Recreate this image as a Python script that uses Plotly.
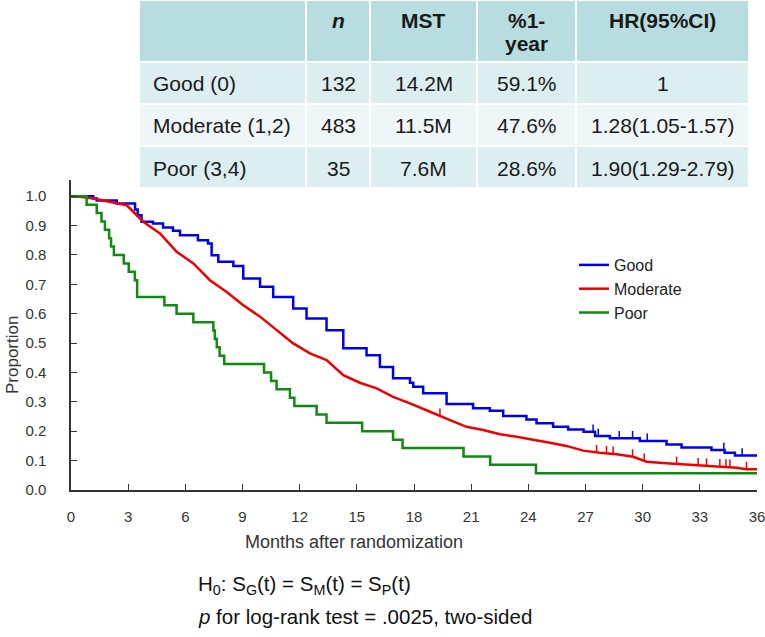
import numpy as np
import plotly.graph_objects as go

# ---------------- data ----------------
# Poor (3,4): n=35, KM step points (months, survival)
poor_t = [0, 0.82, 1.35, 1.6, 1.78, 2.0, 2.1, 2.25, 2.77, 3.03, 3.35, 3.47, 4.9, 5.54, 6.42,
          7.47, 7.55, 7.65, 7.8, 8.04, 10.13, 10.5, 10.79, 11.49, 11.72, 12.89, 13.41, 15.28,
          16.9, 17.4, 20.6, 22.0, 24.4, 36]
poor_s = [1.0, 0.971, 0.943, 0.914, 0.886, 0.857, 0.829, 0.800, 0.771, 0.743, 0.714, 0.657, 0.629,
          0.600, 0.571, 0.543, 0.514, 0.486, 0.457, 0.429, 0.400, 0.371, 0.343, 0.314, 0.286,
          0.257, 0.229, 0.200, 0.171, 0.143, 0.114, 0.086, 0.057, 0.057]

# Good (0): n=132
good_t = [0, 1.17, 1.35, 2.4, 3.36, 3.5, 3.7, 4.3, 4.83, 5.35, 5.72, 6.66, 7.19, 7.38, 7.73,
          8.52, 9.04, 9.92, 10.61, 11.66, 12.36, 13.41, 14.29, 15.51, 16.21, 16.9, 17.79,
          17.96, 18.48, 19.71, 21.1, 21.98, 22.68, 23.9, 24.43, 25.3, 26.09, 26.9, 27.5,
          28.28, 29.85, 31.25, 32.04, 33.61, 34.3, 34.84, 36]
good_s = [1.0, 0.992, 0.985, 0.975, 0.955, 0.935, 0.913, 0.907, 0.893, 0.882, 0.867, 0.850,
          0.839, 0.799, 0.777, 0.762, 0.720, 0.692, 0.657, 0.618, 0.584, 0.544, 0.482, 0.459,
          0.419, 0.380, 0.365, 0.351, 0.329, 0.293, 0.278, 0.270, 0.252, 0.240, 0.227, 0.215,
          0.206, 0.198, 0.184, 0.176, 0.167, 0.155, 0.145, 0.136, 0.127, 0.117, 0.117]
good_cens = [27.4, 27.67, 28.77, 29.47, 30.24, 34.26, 35.22]

# Moderate (1,2): n=483
mod_t = [0, 0.47, 1.17, 2.05, 2.92, 3.1, 3.79, 4.67, 5.54, 6.42, 7.29, 8.17, 9.04, 9.92,
         10.79, 11.66, 12.54, 13.41, 14.29, 15.16, 16.04, 16.9, 17.79, 18.13, 19.0, 19.89,
         20.76, 21.63, 22.51, 23.38, 24.26, 25.13, 26.0, 26.88, 27.75, 28.63, 29.5, 30.2,
         31.25, 32.65, 33.52, 34.58, 34.93, 35.45, 36]
mod_s = [1.0, 0.998, 0.992, 0.981, 0.969, 0.958, 0.913, 0.873, 0.811, 0.771, 0.714, 0.674,
         0.629, 0.590, 0.544, 0.499, 0.465, 0.442, 0.391, 0.365, 0.346, 0.317, 0.295, 0.285,
         0.262, 0.238, 0.215, 0.204, 0.190, 0.181, 0.172, 0.161, 0.150, 0.134, 0.127, 0.122,
         0.113, 0.096, 0.091, 0.085, 0.082, 0.079, 0.076, 0.071, 0.071]
mod_cens = [19.36, 27.58, 28.1, 28.45, 29.47, 30.08, 31.78, 32.91, 33.35, 34.05, 34.37, 34.58, 35.45]

# table
tbl_header = ["", "<b><i>n</i></b>", "<b>MST</b>", "<b>%1-<br>year</b>", "<b>HR(95%CI)</b>"]
tbl_group = ["Good (0)", "Moderate (1,2)", "Poor (3,4)"]
tbl_n = ["132", "483", "35"]
tbl_mst = ["14.2M", "11.5M", "7.6M"]
tbl_1yr = ["59.1%", "47.6%", "28.6%"]
tbl_hr = ["1", "1.28(1.05-1.57)", "1.90(1.29-2.79)"]

x_ticks = list(range(0, 37, 3))
y_ticks = [round(0.1 * i, 1) for i in range(11)]

# ---------------- figure ----------------
W, H = 765, 637
L, R, T = 71, 8, 0
B = H - 490
PW, PH = W - L - R, H - T - B


def px_x(px):
    return (px - L) / PW


def px_y(py):
    return (H - B - py) / PH


FONT = "Liberation Sans, Arial, sans-serif"
BLUE, RED, GREEN = "#0000F0", "#F00000", "#108A10"

fig = go.Figure()

fig.add_trace(go.Scatter(x=good_t, y=good_s, mode="lines", line=dict(color=BLUE, width=2.5, shape="hv"),
                         name="Good", legendgroup="g"))
fig.add_trace(go.Scatter(x=mod_t, y=mod_s, mode="lines", line=dict(color=RED, width=2.5, shape="linear"),
                         name="Moderate", legendgroup="m"))
fig.add_trace(go.Scatter(x=poor_t, y=poor_s, mode="lines", line=dict(color=GREEN, width=2.5, shape="hv"),
                         name="Poor", legendgroup="p"))


def step_val(ts, ss, c):
    i = np.searchsorted(ts, c, side="right") - 1
    return ss[max(i, 0)]


TICK_H = 0.025
cx, cy = [], []
for c in good_cens:
    v = step_val(good_t, good_s, c)
    cx += [c, c, None]
    cy += [v, v + TICK_H, None]
fig.add_trace(go.Scatter(x=cx, y=cy, mode="lines", line=dict(color=BLUE, width=1.5),
                         showlegend=False, hoverinfo="skip"))
cx, cy = [], []
for c in mod_cens:
    v = float(np.interp(c, mod_t, mod_s))
    cx += [c, c, None]
    cy += [v, v + TICK_H, None]
fig.add_trace(go.Scatter(x=cx, y=cy, mode="lines", line=dict(color=RED, width=1.5),
                         showlegend=False, hoverinfo="skip"))

# table background (texts placed as annotations for exact placement)
TBL_L, TBL_R = 139, 749
HDR_B, ROW_H = 62, 42
col_w = [167, 64, 107, 99, 173]
columns = [tbl_group, tbl_n, tbl_mst, tbl_1yr, tbl_hr]
nrows = len(tbl_group)
fig.add_trace(go.Table(
    domain=dict(x=[px_x(TBL_L), px_x(TBL_R)], y=[px_y(HDR_B + nrows * ROW_H), 1.0]),
    columnwidth=col_w,
    header=dict(values=[""] * len(tbl_header), height=HDR_B, fill_color="#B8DDE0",
                line=dict(color="white", width=2)),
    cells=dict(values=[[""] * nrows] * len(columns), height=ROW_H,
               fill_color=[["#DDEEF0", "#EEF6F7", "#DDEEF0"]] * len(columns),
               line=dict(color="white", width=2)),
))
edges = np.cumsum([0] + col_w) / sum(col_w) * (TBL_R - TBL_L) + TBL_L
for i, h in enumerate(tbl_header):
    if not h:
        continue
    cxp = (edges[i] + edges[i + 1]) / 2
    for j, line in enumerate(h.replace("<b>", "").replace("</b>", "").split("<br>")):
        fig.add_annotation(x=px_x(cxp), y=px_y(21 + 22 * j), xref="paper", yref="paper",
                           text="<b>" + line + "</b>", showarrow=False,
                           font=dict(family=FONT, size=21, color="#1a1a1a"),
                           xanchor="center", yanchor="middle")
for i, col in enumerate(columns):
    for r, val in enumerate(col):
        yc = HDR_B + ROW_H * (r + 0.5) + 1
        if i == 0:
            xa, xp = "left", edges[0] + 12
        else:
            xa, xp = "center", (edges[i] + edges[i + 1]) / 2
        fig.add_annotation(x=px_x(xp), y=px_y(yc), xref="paper", yref="paper", text=val,
                           showarrow=False, font=dict(family=FONT, size=21, color="#1a1a1a"),
                           xanchor=xa, yanchor="middle")

ax_col = "#333333"
fig.update_layout(
    width=W, height=H,
    margin=dict(l=L, r=R, t=T, b=B, pad=0),
    paper_bgcolor="white", plot_bgcolor="white",
    font=dict(family=FONT, color="#333333"),
    xaxis=dict(range=[0, 36], tickvals=x_ticks, ticks="inside", ticklen=6, tickcolor=ax_col,
               showline=True, linecolor=ax_col, linewidth=1.5, showgrid=False, zeroline=False,
               tickfont=dict(size=15, color="#333333"), ticklabelstandoff=12,
               ticklabeloverflow="allow"),
    yaxis=dict(range=[0, 1.055], domain=[0, px_y(180)], tickvals=y_ticks, tickformat=".1f",
               ticks="inside", ticklen=6, tickcolor=ax_col,
               showline=True, linecolor=ax_col, linewidth=1.5, showgrid=False, zeroline=False,
               tickfont=dict(size=15, color="#333333"), ticklabelstandoff=20),
    legend=dict(x=px_x(574), y=px_y(248), xanchor="left", yanchor="top",
                font=dict(size=16, color="#222222"), bgcolor="rgba(0,0,0,0)",
                traceorder="grouped", tracegroupgap=0, itemwidth=30),
    showlegend=True,
)

fig.add_annotation(x=px_x(354), y=px_y(542), xref="paper", yref="paper", text="Months after randomization",
                   showarrow=False, font=dict(size=18, color="#333333"), xanchor="center", yanchor="middle")
fig.add_annotation(x=px_x(12), y=px_y(355), xref="paper", yref="paper", text="Proportion", textangle=-90,
                   showarrow=False, font=dict(size=17, color="#333333"), xanchor="center", yanchor="middle")
fig.add_annotation(x=px_x(196), y=px_y(585), xref="paper", yref="paper",
                   text="H<sub>0</sub>: S<sub>G</sub>(t) = S<sub>M</sub>(t) = S<sub>P</sub>(t)",
                   showarrow=False, font=dict(size=20.5, color="#111111"), xanchor="left", yanchor="middle")
fig.add_annotation(x=px_x(196), y=px_y(616), xref="paper", yref="paper",
                   text="<i>p</i> for log-rank test = .0025, two-sided",
                   showarrow=False, font=dict(size=20.5, color="#111111"), xanchor="left", yanchor="middle")

fig.write_html("out.html", config={"displayModeBar": False},
               post_script="document.body.style.margin='0px';document.body.style.overflow='hidden';")
